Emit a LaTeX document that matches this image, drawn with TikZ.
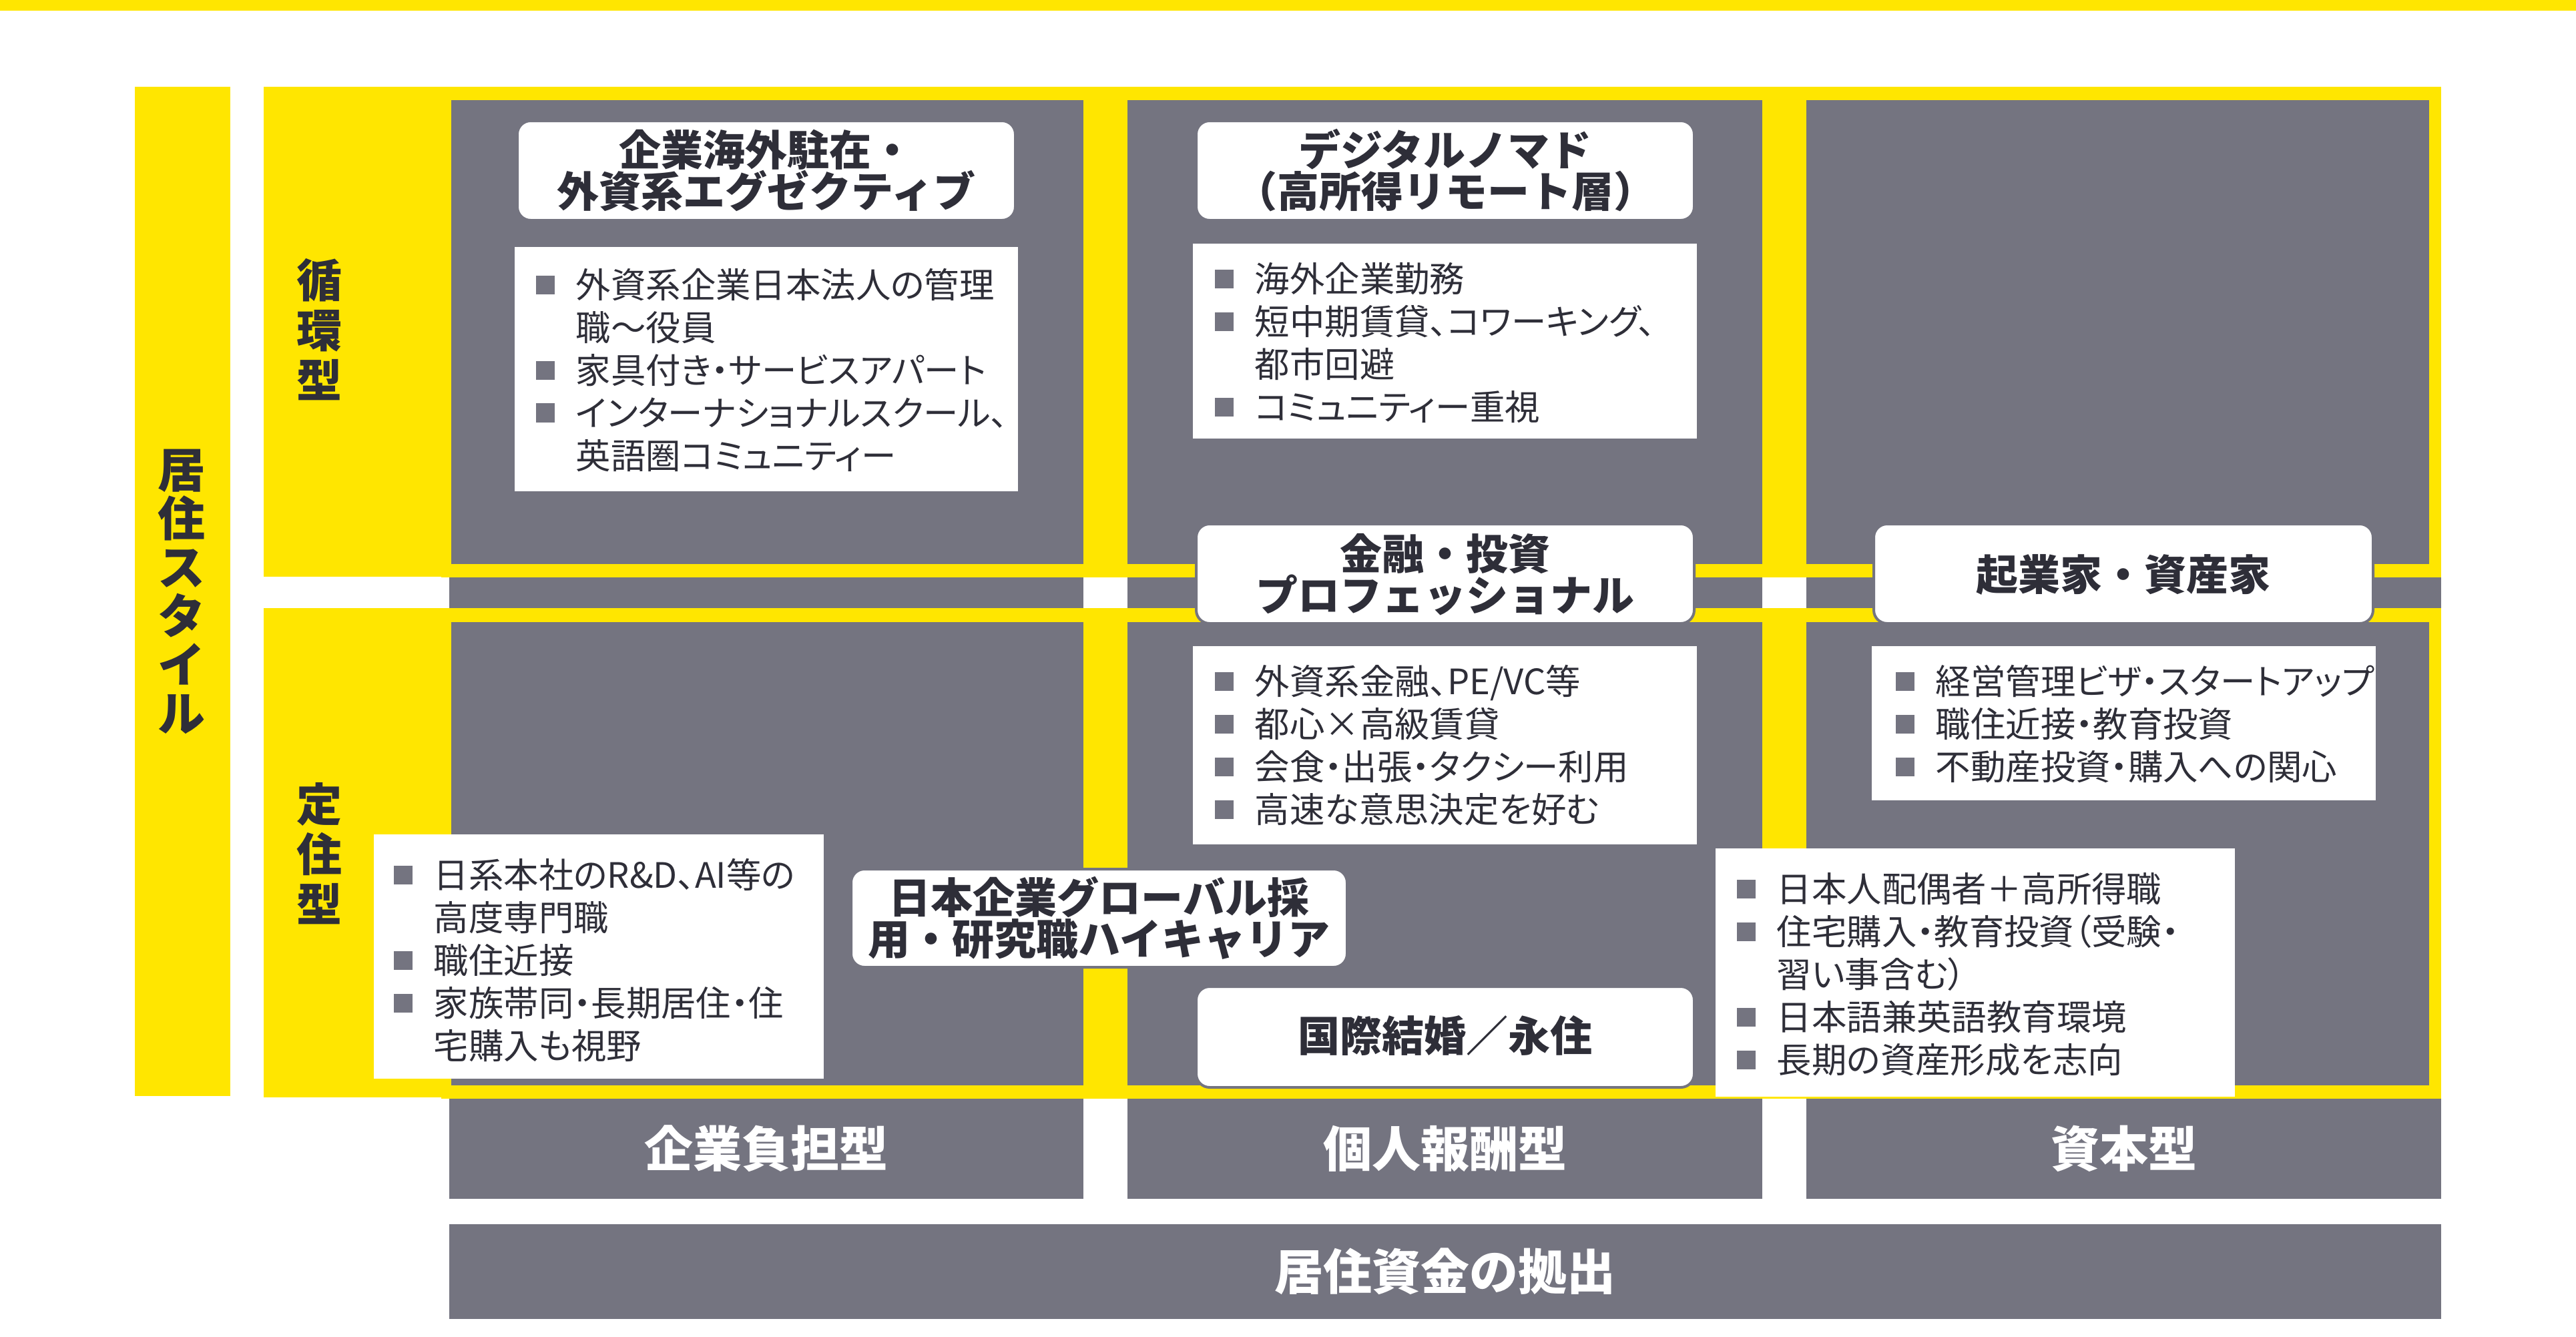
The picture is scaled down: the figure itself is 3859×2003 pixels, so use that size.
\documentclass[tikz,border=0pt]{standalone}
\usepackage{fontspec}
\newfontfamily\jpbody{Noto Sans CJK JP}[RawFeature={+palt}]
\newfontfamily\jptitle{Noto Sans CJK JP}
\definecolor{eyyellow}{HTML}{FFE600}
\definecolor{eygray}{HTML}{747480}
\definecolor{eydark}{HTML}{2E2E38}
\newcommand{\jstr}{\rule[-0.12em]{0pt}{1em}}
\newcommand{\ebul}{\makebox[15pt][l]{\raisebox{1.48pt}{\textcolor{eygray}{\rule{7pt}{7pt}}}}}
\newcommand{\eind}{\hspace*{15pt}}
\newcommand{\bodyfont}{\jpbody\fontsize{13.1pt}{16pt}\selectfont\lineskiplimit=-20pt\lineskip=0pt}
\newcommand{\titlefont}{\jptitle\bfseries\fontsize{15.75pt}{15.5pt}\selectfont\lineskiplimit=-20pt\lineskip=0pt}
\newcommand{\colfont}{\jptitle\bfseries\fontsize{18.25pt}{18.25pt}\selectfont}
\newcommand{\vfontA}{\jptitle\bfseries\fontsize{17.75pt}{18.25pt}\selectfont\lineskiplimit=-20pt\lineskip=0pt}
\newcommand{\vfontB}{\jptitle\bfseries\fontsize{17pt}{18.75pt}\selectfont\lineskiplimit=-20pt\lineskip=0pt}
\begin{document}
\begin{tikzpicture}[x=0.25pt,y=-0.25pt,
  bodytext/.style={anchor=north west, inner sep=0pt, align=left, text=eydark, font=\bodyfont},
  titletext/.style={inner sep=0pt, align=center, text=eydark, font=\titlefont},
  coltext/.style={inner sep=0pt, text=white, font=\colfont},
  vtextA/.style={inner sep=0pt, align=center, text=eydark, font=\vfontA},
  vtextB/.style={inner sep=0pt, align=center, text=eydark, font=\vfontB},
  titlebox/.style={fill=white, draw=eygray, line width=1pt, rounded corners=5pt},
  listbox/.style={fill=white}
]
\useasboundingbox (0,0) rectangle (3859,2003);
\fill[white] (0,0) rectangle (3859,2003);
\fill[eyyellow] (0,0) rectangle (3859,16);
% label bars
\fill[eyyellow] (202,130) rectangle (345,1642);
\fill[eyyellow] (395,130) rectangle (661,864);
\fill[eyyellow] (395,911) rectangle (661,1644);
% yellow frames
\fill[eyyellow] (661,130) rectangle (3657,865);
\fill[eyyellow] (661,911) rectangle (3657,1646);
% gray cells
\foreach \a/\b in {676/1623,1689/2640,2706/3639} {
  \fill[eygray] (\a,150) rectangle (\b,845);
  \fill[eygray] (\a,932) rectangle (\b,1626);
}
\foreach \a/\b in {673/1623,1689/2640,2706/3657} {
  \fill[eygray] (\a,865) rectangle (\b,911);
  \fill[eygray] (\a,1646) rectangle (\b,1796);
}
\fill[eygray] (673,1834) rectangle (3657,1976);

% vertical labels
\node[vtextA] (lstyle) at (272,886) {\jstr 居\\\jstr 住\\\jstr ス\\\jstr タ\\\jstr イ\\\jstr ル};
\node[vtextB] (lcirc) at (478,495) {\jstr 循\\\jstr 環\\\jstr 型};
\node[vtextB] (lsettle) at (478,1280) {\jstr 定\\\jstr 住\\\jstr 型};

% list boxes
\fill[listbox] (771,370) rectangle (1525,736);
\fill[listbox] (1787,365) rectangle (2542,657);
\fill[listbox] (1787,968) rectangle (2542,1265);
\fill[listbox] (2804,968) rectangle (3559,1199);
\fill[listbox] (2570,1271) rectangle (3348,1643);
\fill[listbox] (560,1250) rectangle (1234,1616);

% title boxes
\filldraw[titlebox] (775,181) rectangle (1521,330);
\filldraw[titlebox] (1792,181) rectangle (2538,330);
\filldraw[titlebox] (1792,785) rectangle (2538,934);
\filldraw[titlebox] (2807,785) rectangle (3555,934);
\filldraw[titlebox] (1275,1302) rectangle (2018,1449);
\filldraw[titlebox] (1792,1478) rectangle (2538,1629);

% titles
\node[titletext] (t1) at (1148,255.5) {\jstr 企業海外駐在・\\\jstr 外資系エグゼクティブ};
\node[titletext] (t2) at (2165,255.5) {\jstr デジタルノマド\\\jstr （高所得リモート層）};
\node[titletext] (t3) at (2165,861) {\jstr 金融・投資\\\jstr プロフェッショナル};
\node[titletext] (t4) at (3181,861) {\jstr 起業家・資産家};
\node[titletext] (t5) at (1646.5,1375.5) {\jstr 日本企業グローバル採\\\jstr 用・研究職ハイキャリア};
\node[titletext] (t6) at (2165,1552) {\jstr 国際結婚／永住};

% list texts
\node[bodytext] (b1) at (802,399.5) {\jstr\ebul 外資系企業日本法人の管理\\\jstr\eind 職～役員\\\jstr\ebul 家具付き・サービスアパート\\\jstr\ebul インターナショナルスクール、\\\jstr\eind 英語圏コミュニティー};
\node[bodytext] (b2) at (1819,390.5) {\jstr\ebul 海外企業勤務\\\jstr\ebul 短中期賃貸、コワーキング、\\\jstr\eind 都市回避\\\jstr\ebul コミュニティー重視};
\node[bodytext] (b3) at (1819,993.5) {\jstr\ebul 外資系金融、PE/VC等\\\jstr\ebul 都心×高級賃貸\\\jstr\ebul 会食・出張・タクシー利用\\\jstr\ebul 高速な意思決定を好む};
\node[bodytext] (b4) at (2839,993.5) {\jstr\ebul 経営管理ビザ・スタートアップ\\\jstr\ebul 職住近接・教育投資\\\jstr\ebul 不動産投資・購入への関心};
\node[bodytext] (b5) at (2601,1304.5) {\jstr\ebul 日本人配偶者＋高所得職\\\jstr\ebul 住宅購入・教育投資（受験・\\\jstr\eind 習い事含む）\\\jstr\ebul 日本語兼英語教育環境\\\jstr\ebul 長期の資産形成を志向};
\node[bodytext] (b6) at (589,1283.5) {\jstr\ebul 日系本社のR\&D、AI等の\\\jstr\eind 高度専門職\\\jstr\ebul 職住近接\\\jstr\ebul 家族帯同・長期居住・住\\\jstr\eind 宅購入も視野};

% column labels
\node[coltext] (c1) at (1148,1721) {企業負担型};
\node[coltext] (c2) at (2164.5,1721) {個人報酬型};
\node[coltext] (c3) at (3181.5,1721) {資本型};
\node[coltext] (c4) at (2165,1905) {居住資金の拠出};
\end{tikzpicture}
\end{document}
